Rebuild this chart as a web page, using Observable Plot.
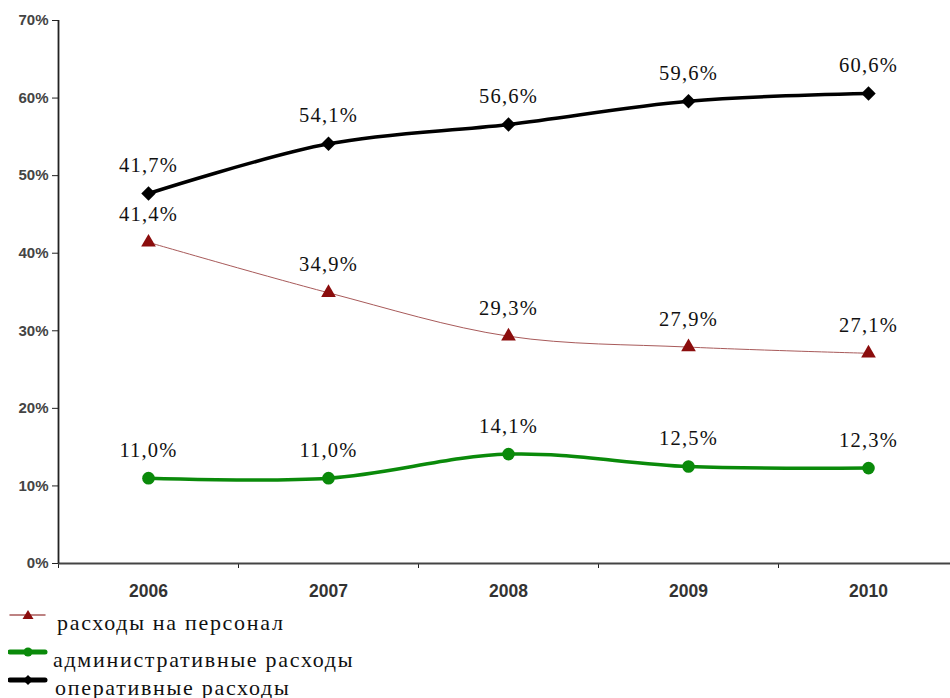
<!DOCTYPE html>
<html>
<head>
<meta charset="utf-8">
<script src="https://cdn.jsdelivr.net/npm/d3@7"></script>
<script src="https://cdn.jsdelivr.net/npm/@observablehq/plot@0.6"></script>
<style>
  html, body { margin: 0; padding: 0; background: #fff; overflow: hidden; }
  #wrap { position: relative; width: 950px; height: 698px; }
  #legend { position: absolute; left: 0; top: 600px; font-family: "Liberation Serif", "Times New Roman", serif; font-size: 22px; color: #111; }
  .row { position: absolute; left: 0; height: 34px; white-space: nowrap; letter-spacing: 1.7px; }
  .row svg { position: absolute; left: 8px; }
  .row span { position: absolute; }
</style>
</head>
<body>
<div id="wrap">
  <div id="chart"></div>
  <div id="legend"></div>
</div>
<script>
const years = [2006, 2007, 2008, 2009, 2010];
const operValues = [47.7, 54.1, 56.6, 59.6, 60.6];
const operLabels = ["41,7%", "54,1%", "56,6%", "59,6%", "60,6%"];
const staffValues = [41.4, 34.9, 29.3, 27.9, 27.1];
const staffLabels = ["41,4%", "34,9%", "29,3%", "27,9%", "27,1%"];
const adminValues = [11.0, 11.0, 14.1, 12.5, 12.3];
const adminLabels = ["11,0%", "11,0%", "14,1%", "12,5%", "12,3%"];
const yTicks = [0, 10, 20, 30, 40, 50, 60, 70];
const seriesNames = ["расходы на персонал", "административные расходы", "оперативные расходы"];

const mk = (vals, labs) => years.map((y, i) => ({year: y, value: vals[i], label: labs[i]}));
const oper = mk(operValues, operLabels);
const staff = mk(staffValues, staffLabels);
const admin = mk(adminValues, adminLabels);

const labelFont = {fontFamily: "Liberation Serif, Times New Roman, serif", fontSize: 20.5, fill: "#111", dy: -28};

const chart = Plot.plot({
  width: 950,
  height: 610,
  marginLeft: 58,
  marginRight: -8,
  marginTop: 20,
  marginBottom: 47,
  style: {fontFamily: "Liberation Sans, Arial, sans-serif", background: "#fff"},
  x: {type: "linear", domain: [2005.5, 2010.5]},
  y: {domain: [0, 70]},
  marks: [
    Plot.axisY({ticks: yTicks, tickSize: 6, tickPadding: 4, tickFormat: d => d + "%", fontSize: 15, fontWeight: "bold", fill: "#444", stroke: "#222", label: null}),
    Plot.axisX({ticks: years, tickSize: 0, tickPadding: 21, tickFormat: d => String(d), fontSize: 17.5, fontWeight: "bold", fill: "#333", label: null}),
    Plot.axisX({ticks: d3.range(2005.5, 2011, 1), tickSize: 5, tickFormat: () => "", stroke: "#222", label: null}),
    Plot.ruleY([0], {stroke: "#444", strokeWidth: 2}),
    Plot.ruleX([2005.5], {stroke: "#222", strokeWidth: 1.8}),
    Plot.line(staff, {x: "year", y: "value", stroke: "#a85a5a", strokeWidth: 1, curve: "catmull-rom"}),
    Plot.line(admin, {x: "year", y: "value", stroke: "#0a8a0a", strokeWidth: 3.5, curve: "catmull-rom"}),
    Plot.line(oper, {x: "year", y: "value", stroke: "#000", strokeWidth: 3.5, curve: "catmull-rom"}),
    Plot.dot(staff, {x: "year", y: "value", symbol: "triangle2", r: 7, fill: "#8b0d0d"}),
    Plot.dot(admin, {x: "year", y: "value", symbol: "circle", r: 6.3, fill: "#0a8a0a"}),
    Plot.dot(oper, {x: "year", y: "value", symbol: "diamond2", r: 6.5, fill: "#000"}),
    Plot.text(staff, {x: "year", y: "value", text: "label", ...labelFont}),
    Plot.text(admin, {x: "year", y: "value", text: "label", ...labelFont}),
    Plot.text(oper, {x: "year", y: "value", text: "label", ...labelFont})
  ]
});
d3.select(chart).selectAll("g[aria-label=text] text").style("letter-spacing", "1.2px");
document.getElementById("chart").appendChild(chart);

// legend
const legendItems = [
  {name: seriesNames[0], stroke: "#a85a5a", width: 1.5, marker: "triangle", fill: "#8b0d0d", top: 0, textLeft: 57},
  {name: seriesNames[1], stroke: "#0a8a0a", width: 5, marker: "circle", fill: "#0a8a0a", top: 37, textLeft: 53},
  {name: seriesNames[2], stroke: "#000", width: 5, marker: "diamond", fill: "#000", top: 65, textLeft: 55}
];
const legend = document.getElementById("legend");
legendItems.forEach(it => {
  const row = document.createElement("div");
  row.className = "row";
  row.style.top = it.top + "px";
  let m = "";
  if (it.marker === "triangle") m = `<path d="M20,10 L25.5,19 L14.5,19 Z" fill="${it.fill}"/>`;
  else if (it.marker === "circle") m = `<circle cx="20" cy="15" r="4.5" fill="${it.fill}"/>`;
  else m = `<path d="M20,10 L25,15 L20,20 L15,15 Z" fill="${it.fill}"/>`;
  row.innerHTML = `<svg width="40" height="30" style="top:0px"><line x1="2" x2="37" y1="15" y2="15" stroke="${it.stroke}" stroke-width="${it.width}" stroke-linecap="round"/>${m}</svg><span style="left:${it.textLeft}px;top:10px">${it.name}</span>`;
  legend.appendChild(row);
});
</script>
</body>
</html>
